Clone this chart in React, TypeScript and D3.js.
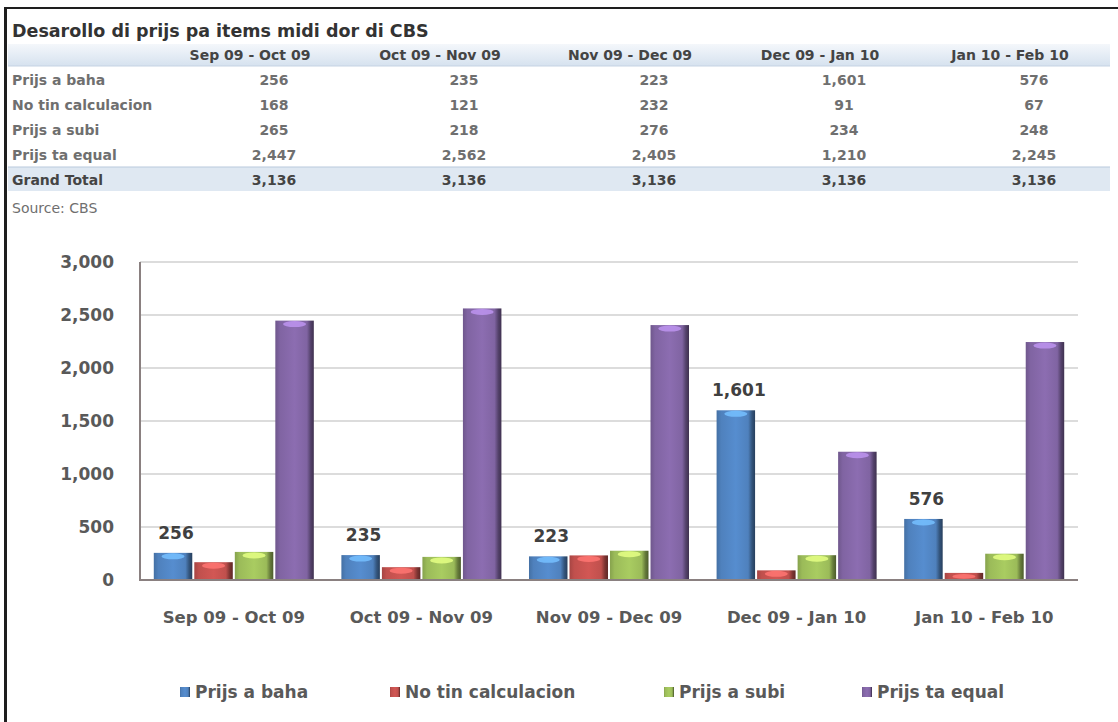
import React from 'react';
import * as d3 from 'd3';

// table + chart values (CBS price development)
const categories = ['Sep 09 - Oct 09', 'Oct 09 - Nov 09', 'Nov 09 - Dec 09', 'Dec 09 - Jan 10', 'Jan 10 - Feb 10'];
const seriesNames = ['Prijs a baha', 'No tin calculacion', 'Prijs a subi', 'Prijs ta equal'];
const prijsABaha = [256, 235, 223, 1601, 576];
const noTinCalculacion = [168, 121, 232, 91, 67];
const prijsASubi = [265, 218, 276, 234, 248];
const prijsTaEqual = [2447, 2562, 2405, 1210, 2245];
const grandTotal = [3136, 3136, 3136, 3136, 3136];
const yTicks = [0, 500, 1000, 1500, 2000, 2500, 3000];

const seriesValues = [prijsABaha, noTinCalculacion, prijsASubi, prijsTaEqual];
const colors = ['#4f81bd', '#c0504d', '#9bbb59', '#8064a2'];

const W = 1118;
const H = 722;
const FONT = '"DejaVu Sans", Verdana, sans-serif';
const fmt = d3.format(',');

const App: React.FC = () => {
  // table columns
  const colX = d3.scaleBand<string>().domain(categories).range([155, 1105]);
  const colCenter = (c: string) => colX(c)! + colX.bandwidth() / 2;
  const rowY = d3.scalePoint<string>().domain(seriesNames).range([80, 155]);

  // chart scales
  const x0 = d3.scaleBand<string>().domain(categories).range([140, 1078]).paddingInner(0.147).paddingOuter(0.0735);
  const x1 = d3.scaleBand<string>().domain(seriesNames).range([0, x0.bandwidth()]).paddingInner(0.05);
  const y = d3.scaleLinear().domain([0, 3000]).range([580, 262]);

  const legendX = [180, 390, 664, 862];

  return (
    <svg width={W} height={H} style={{ position: 'absolute', left: 0, top: 0, background: '#fff' }} fontFamily={FONT}>
      <defs>
        {colors.map((c, i) => {
          const base = d3.color(c)!;
          return (
            <linearGradient id={`bar${i}`} key={i} x1="0" x2="1" y1="0" y2="0">
              <stop offset="0" stopColor={base.darker(0.4).formatHex()} />
              <stop offset="0.12" stopColor={c} />
              <stop offset="0.5" stopColor={base.brighter(0.25).formatHex()} />
              <stop offset="0.82" stopColor={c} />
              <stop offset="0.92" stopColor={base.darker(1.2).formatHex()} />
              <stop offset="1" stopColor={base.darker(2).formatHex()} />
            </linearGradient>
          );
        })}
        <linearGradient id="hdr" x1="0" x2="0" y1="0" y2="1">
          <stop offset="0" stopColor="#f4f7fb" />
          <stop offset="1" stopColor="#d6e2ef" />
        </linearGradient>
      </defs>

      <rect x={0} y={0} width={W} height={H} fill="#fff" />

      {/* frame */}
      <rect x={4} y={7} width={3} height={H - 7} fill="#1e1e1e" />
      <rect x={4} y={7} width={W - 4} height={2} fill="#1e1e1e" />

      {/* table */}
      <text x={12} y={37} fontSize={17.5} fontWeight="bold" fill="#333">
        Desarollo di prijs pa items midi dor di CBS
      </text>
      <rect x={8} y={44} width={1102} height={22} fill="url(#hdr)" />
      <line x1={8} x2={1110} y1={66} y2={66} stroke="#c5d3e3" />
      {categories.map((c) => (
        <text key={c} x={colCenter(c)} y={60} textAnchor="middle" fontSize={14} fontWeight="bold" fill="#444">
          {c}
        </text>
      ))}
      {seriesNames.map((s, si) => (
        <g key={s}>
          <text x={12} y={rowY(s)! + 5} fontSize={14} fontWeight="bold" fill="#6f6f6f">
            {s}
          </text>
          {categories.map((c, ci) => (
            <text key={c} x={colCenter(c) + 24} y={rowY(s)! + 5} textAnchor="middle" fontSize={14} fontWeight="bold" fill="#6f6f6f">
              {fmt(seriesValues[si][ci])}
            </text>
          ))}
        </g>
      ))}
      <rect x={8} y={167} width={1102} height={24} fill="#dfe8f2" />
      <line x1={8} x2={1110} y1={167} y2={167} stroke="#b9c9dc" />
      <text x={12} y={185} fontSize={14} fontWeight="bold" fill="#444">
        Grand Total
      </text>
      {categories.map((c, ci) => (
        <text key={c} x={colCenter(c) + 24} y={185} textAnchor="middle" fontSize={14} fontWeight="bold" fill="#444">
          {fmt(grandTotal[ci])}
        </text>
      ))}
      <text x={12} y={213} fontSize={14} fill="#6f6f6f">
        Source: CBS
      </text>

      {/* gridlines */}
      {yTicks.filter((t) => t > 0).map((t) => (
        <line key={t} x1={140} x2={1078} y1={y(t)} y2={y(t)} stroke="#dcdcdc" strokeWidth={2} />
      ))}

      {/* bars */}
      {categories.map((c, ci) => (
        <g key={c} transform={`translate(${x0(c)},0)`}>
          {seriesNames.map((s, si) => {
            const v = seriesValues[si][ci];
            const bx = x1(s)!;
            const bw = x1.bandwidth();
            const top = y(v);
            const hl = d3.color(colors[si])!.brighter(1.1).formatHex();
            return (
              <g key={s}>
                <rect x={bx} y={top} width={bw} height={580 - top} fill={`url(#bar${si})`} />
                <ellipse cx={bx + bw / 2} cy={top + 3.5} rx={bw * 0.3} ry={Math.min(3, (580 - top) / 3)} fill={hl} opacity={0.85} />
              </g>
            );
          })}
          <text
            x={x1(seriesNames[0])! + x1.bandwidth() / 2 + 3}
            y={y(prijsABaha[ci]) - 14}
            textAnchor="middle"
            fontSize={17}
            fontWeight="bold"
            fill="#404040"
          >
            {fmt(prijsABaha[ci])}
          </text>
        </g>
      ))}

      {/* axes */}
      <line x1={140} x2={140} y1={262} y2={581} stroke="#8a8080" strokeWidth={2} />
      <line x1={139} x2={1078} y1={580} y2={580} stroke="#8a8080" strokeWidth={2} />
      {yTicks.map((t) => (
        <text key={t} x={114} y={y(t)} dy="0.36em" textAnchor="end" fontSize={17} fontWeight="bold" fill="#595959">
          {fmt(t)}
        </text>
      ))}
      {categories.map((c) => (
        <text key={c} x={x0(c)! + x0.bandwidth() / 2} y={617} dy="0.36em" textAnchor="middle" fontSize={16.5} fontWeight="bold" fill="#595959">
          {c}
        </text>
      ))}

      {/* legend */}
      {seriesNames.map((s, i) => (
        <g key={s} transform={`translate(${legendX[i]},692)`}>
          <rect x={0} y={-5} width={10} height={10} fill={`url(#bar${i})`} />
          <text x={15} y={0} dy="0.36em" fontSize={17} fontWeight="bold" fill="#595959">
            {s}
          </text>
        </g>
      ))}
    </svg>
  );
};

export default App;
